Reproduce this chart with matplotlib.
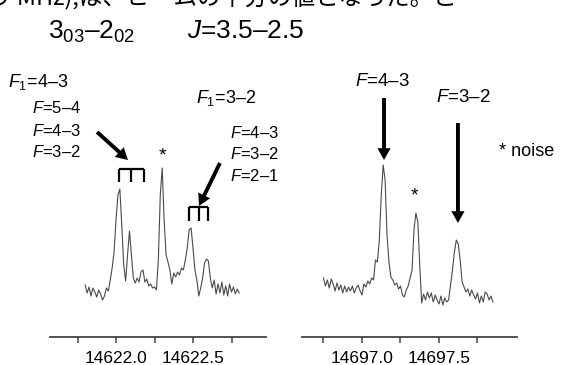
import numpy as np
import matplotlib
matplotlib.use("Agg")
import matplotlib.pyplot as plt

plt.rcParams['font.family'] = ['Liberation Sans', 'DejaVu Sans']
plt.rcParams['mathtext.fontset'] = 'custom'
plt.rcParams['mathtext.rm'] = 'Liberation Sans'
plt.rcParams['mathtext.it'] = 'Liberation Sans:italic'
plt.rcParams['mathtext.bf'] = 'Liberation Sans:bold'

# ---------------- data ----------------
left_freq_start = 14621.80
right_freq_start = 14696.75
freq_step = 0.0125

left_intensity = [5, -3, 3, -6, 2, -2, -7, 0, -4, -10,
                  -6, 2, -1, 10, 22, 38, 70, 95, 101, 65,
                  25, 9, 35, 59, 35, 12, 7, 12, 8, 18,
                  20, 8, 11, 4, 6, 2, 3, 0, 30, 95,
                  122, 70, 35, 28, 20, 6, 17, 13, 18, 15,
                  22, 20, 30, 42, 60, 62, 42, 20, 10, -6,
                  2, 12, 27, 31, 29, 12, 2, 10, -4, 6,
                  -3, 8, -5, 4, -6, 6, -2, 3, -4, 1, -3]

right_intensity = [12, 4, 10, 2, 11, 6, -1, 7, 0, 5,
                   -3, 4, -2, 3, -1, 4, -3, 2, 5, -1,
                   -5, 6, 3, 9, 6, 12, 10, 30, 28, 50,
                   95, 125, 110, 55, 28, 13, 10, 5, 7, 1,
                   4, -5, -7, 0, 4, 12, 20, 60, 77, 68,
                   25, -13, -4, -10, -2, -8, -3, -12, -5, -10,
                   -14, -6, -15, -8, -12, -10, 5, 20, 38, 50,
                   46, 30, 8, 3, -2, 1, -6, 0, -5, -9,
                   -3, -13, -6, -12, -2, -4, -10, -6, -12]

left_ticks = [14621.75, 14622.0, 14622.25, 14622.5, 14622.75]
left_tick_labels = ['', '14622.0', '', '14622.5', '']
right_ticks = [14696.75, 14697.0, 14697.25, 14697.5, 14697.75]
right_tick_labels = ['', '14697.0', '', '14697.5', '']

# hyperfine component markers
hfs_F1_43 = [14622.019, 14622.097, 14622.182]
hfs_F1_32 = [14622.474, 14622.539, 14622.597]
noise_left_freq = 14622.299
noise_right_freq = 14697.338
right_F43_freq = 14697.143
right_F32_freq = 14697.623

top_text = "う MHz),は、ビームの半分の値となった。こ"

# ---------------- figure ----------------
W, H = 562, 365
fig = plt.figure(figsize=(W / 100, H / 100), dpi=100)


def px_axes(x0, x1, ytop, ybot):
    return fig.add_axes([x0 / W, (H - ybot) / H, (x1 - x0) / W, (ybot - ytop) / H])


axL = px_axes(50, 266, 40, 337)
axR = px_axes(302, 517, 40, 337)

lf = left_freq_start + freq_step * np.arange(len(left_intensity))
rf = right_freq_start + freq_step * np.arange(len(right_intensity))

line_kw = dict(color='#4a4a4a', lw=0.8)
axL.plot(lf, left_intensity, **line_kw)
axR.plot(rf, right_intensity, **line_kw)

axL.set_xlim(14621.5714, 14622.974)
axR.set_xlim(14696.6104, 14698.0065)
for ax, ticks, labels in [(axL, left_ticks, left_tick_labels),
                          (axR, right_ticks, right_tick_labels)]:
    ax.set_ylim(-47, 250)
    ax.set_xticks(ticks)
    ax.set_xticklabels(labels)
    for s in ['top', 'right', 'left']:
        ax.spines[s].set_visible(False)
    ax.spines['bottom'].set_color('#444444')
    ax.spines['bottom'].set_linewidth(1.3)
    ax.set_yticks([])
    ax.tick_params(axis='x', direction='out', length=4.5, width=1.1,
                   color='#444444', labelsize=12.5, pad=5.5, labelcolor='black')
    ax.patch.set_alpha(0)

arrow_kw = dict(facecolor='black', edgecolor='black', width=2.8, headwidth=9.5,
                headlength=8.5, shrink=0, lw=0)

# ---- left panel annotations ----
axL.text(14621.299, 208, r'$F_1$=4–3', fontsize=13, va='center', ha='left')
for y, s in [(182, r'$F$=5–4'), (159, r'$F$=4–3'), (138, r'$F$=3–2')]:
    axL.text(14621.455, y, s, fontsize=12, va='center', ha='left')
axL.text(14622.519, 192, r'$F_1$=3–2', fontsize=13, va='center', ha='left')
for y, s in [(157, r'$F$=4–3'), (136, r'$F$=3–2'), (114, r'$F$=2–1')]:
    axL.text(14622.740, y, s, fontsize=12, va='center', ha='left')

axL.annotate('', xy=(14622.078, 130), xytext=(14621.877, 158),
             arrowprops=arrow_kw, annotation_clip=False)
axL.annotate('', xy=(14622.539, 84), xytext=(14622.675, 127),
             arrowprops=arrow_kw, annotation_clip=False)

for comps, top, bot in [(hfs_F1_43, 121, 108), (hfs_F1_32, 83, 69)]:
    axL.plot([comps[0], comps[-1]], [top, top], color='black', lw=1.6,
             solid_capstyle='butt', clip_on=False)
    for c in comps:
        axL.plot([c, c], [top, bot], color='black', lw=1.6,
                 solid_capstyle='butt', clip_on=False)

axL.text(noise_left_freq, 134, '*', fontsize=14, ha='center', va='center')

# ---- right panel annotations ----
axR.text(right_F43_freq - 0.013, 208, r'$F$=4–3', fontsize=13.5, ha='center', va='center')
axR.text(right_F32_freq + 0.033, 192, r'$F$=3–2', fontsize=13.5, ha='center', va='center')
axR.annotate('', xy=(right_F43_freq, 130), xytext=(right_F43_freq, 192),
             arrowprops=arrow_kw, annotation_clip=False)
axR.annotate('', xy=(right_F32_freq, 67), xytext=(right_F32_freq, 167),
             arrowprops=arrow_kw, annotation_clip=False)
axR.text(noise_right_freq, 94, '*', fontsize=14, ha='center', va='center')
axR.text(14697.890, 138, '* noise', fontsize=13, ha='left', va='center')

# ---- header texts ----
fig.text(48 / W, 1 - 32 / H, r'$3_{03}$–$2_{02}$', fontsize=19, va='center', ha='left')
fig.text(187 / W, 1 - 31 / H, r'$J$=3.5–2.5', fontsize=19, va='center', ha='left')
fig.text(-12 / W, 1 - 5 / H, top_text, fontsize=17, va='baseline', ha='left',
         family=['Noto Sans CJK JP', 'DejaVu Sans'])

fig.savefig('out.png', dpi=100)
